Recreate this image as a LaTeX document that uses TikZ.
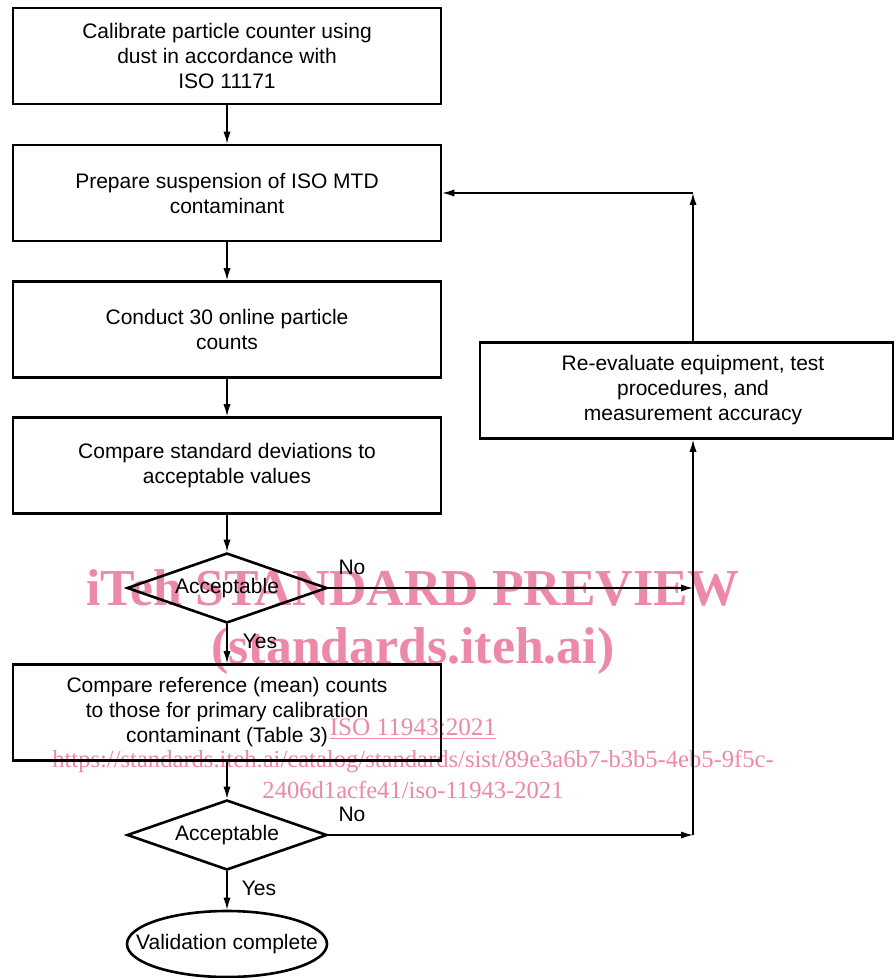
\documentclass[tikz,border=0pt]{standalone}
\usepackage{fontspec}
\setmainfont{Liberation Sans}
\newfontfamily\wmfont{Liberation Serif}
\usetikzlibrary{shapes.geometric,arrows.meta}
\definecolor{wmpink}{RGB}{235,137,167}
\begin{document}
\begin{tikzpicture}[x=0.5pt,y=-0.5pt,
  every node/.style={font=\fontsize{10.5}{12.5}\selectfont},
  procbox/.style={draw, line width=1.3pt, minimum width=214pt, minimum height=48pt, align=center, inner sep=0pt},
  decision/.style={draw, diamond, line width=1.3pt, minimum width=100pt, minimum height=35pt, inner sep=0pt, aspect=2.857},
  flow/.style={line width=0.7pt, -{Latex[length=6pt,width=3.6pt]}},
  wm/.style={text=wmpink, anchor=base, inner sep=0pt},
  wmbig/.style={wm, font=\wmfont\bfseries\fontsize{25.9}{30}\selectfont},
  wmsmall/.style={wm, font=\wmfont\fontsize{12.3}{15}\selectfont}]

\useasboundingbox (0,0) rectangle (894,978);

% watermark
\node[wmbig] (wm1) at (413,605) {iTeh STANDARD PREVIEW};
\node[wmbig] (wm2) at (413,663) {(standards.iteh.ai)};
\node[wmsmall, font=\wmfont\fontsize{12.6}{15}\selectfont] (wm3) at (413,735) {\underline{ISO 11943:2021}};
\node[wmsmall] (wm4) at (413,767) {https://standards.iteh.ai/catalog/standards/sist/89e3a6b7-b3b5-4eb5-9f5c-};
\node[wmsmall] (wm5) at (413,798) {2406d1acfe41/iso-11943-2021};

% main column
\node[procbox] (b1) at (227,56) {Calibrate particle counter using\\dust in accordance with\\ISO 11171};
\node[procbox] (b2) at (227,193) {Prepare suspension of ISO MTD\\contaminant};
\node[procbox] (b3) at (227,329.5) {Conduct 30 online particle\\counts};
\node[procbox] (b4) at (227,465.5) {Compare standard deviations to\\acceptable values};
\node[decision] (d1) at (227,588) {Acceptable};
\node[procbox] (b5) at (227,712.5) {Compare reference (mean) counts\\to those for primary calibration\\contaminant (Table 3)};
\node[decision] (d2) at (227,835) {Acceptable};
\node[draw, ellipse, line width=1.3pt, minimum width=100pt, minimum height=33pt, inner sep=0pt] (end) at (227,944) {};
\node (endtext) at (end.center) {Validation complete};

% right box
\node[procbox, minimum width=206.5pt] (re) at (686.5,390.5) {};
\node[align=center, inner sep=0pt] (retext) at (693,390.5) {Re-evaluate equipment, test\\procedures, and\\measurement accuracy};

\coordinate (c1) at (693,193);
\coordinate (c2) at (693,588);
\coordinate (c3) at (693,835);

% connectors
\draw[flow] (b1) -- (b2);
\draw[flow] (b2) -- (b3);
\draw[flow] (b3) -- (b4);
\draw[flow] (b4) -- (d1);
\draw[flow] (d1) -- (b5);
\draw[flow] (b5) -- (d2);
\draw[flow] (d2) -- (end);
\draw[flow] (d1.east) -- (c2);
\draw[flow] (d2.east) -- (c3);
\draw[line width=0.7pt] (c3) -- (c2);
\draw[flow] (c2) -- (re.south -| c2);
\draw[flow] (re.north -| c1) -- (c1);
\draw[flow] (c1) -- (b2.east);

% labels
\node (no1) at (352,567) {No};
\node (yes1) at (260,641) {Yes};
\node (no2) at (352,814) {No};
\node (yes2) at (259,888) {Yes};
\end{tikzpicture}
\end{document}
